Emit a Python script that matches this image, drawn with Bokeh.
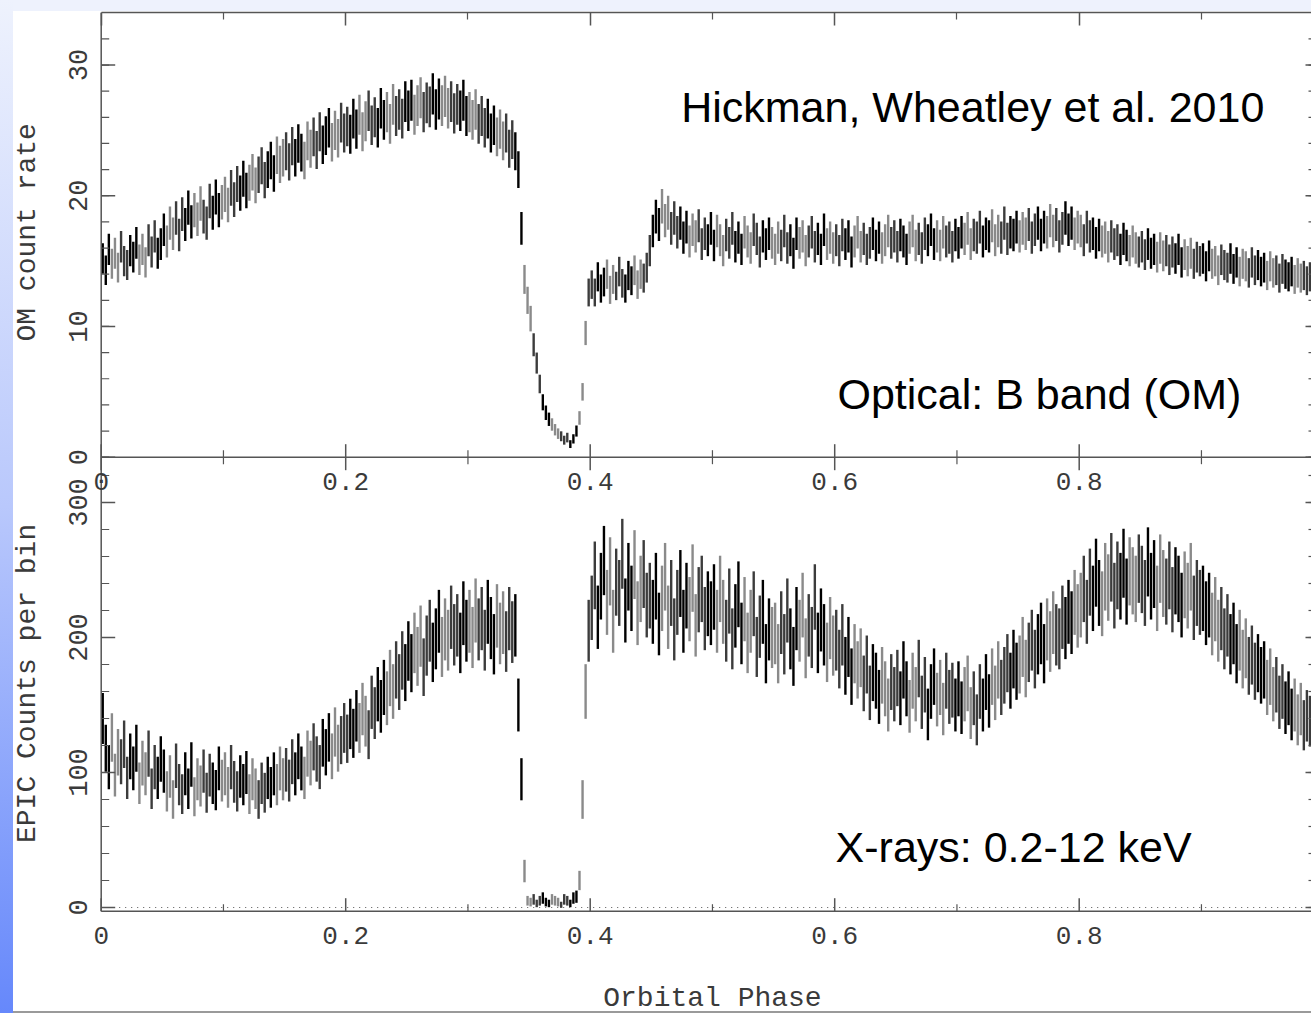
import numpy as np
from bokeh.plotting import figure
from bokeh.models import Range1d, LinearAxis, FixedTicker, CustomJSTickFormatter, Label, ColumnDataSource
from bokeh.embed import file_html
from bokeh.resources import INLINE

# ---------------- data ----------------
PHASE_STEP = 0.0025   # width of one phase bin

OM_RATE = [
    15.2, 14.3, 15.9, 14.8, 15.6, 14.5, 16.1, 15.0, 14.7, 15.8, 15.3, 16.4, 15.1, 15.9, 14.9, 16.6, 15.7, 16.9, 15.6, 16.3,
    17.4, 16.5, 17.9, 17.1, 18.3, 17.0, 18.6, 17.8, 19.1, 18.0, 18.9, 18.2, 19.4, 18.4, 17.9, 19.6, 18.7, 19.9, 18.9, 19.5,
    20.1, 19.3, 20.6, 19.7, 20.9, 20.2, 21.3, 20.4, 21.0, 21.8, 20.8, 21.6, 22.3, 21.2, 22.0, 22.7, 21.7, 23.1, 22.4, 22.9,
    23.4, 22.6, 23.8, 22.9, 24.0, 23.3, 22.7, 24.2, 23.6, 24.5, 23.5, 24.9, 23.9, 24.6, 25.2, 24.1, 25.0, 24.4, 25.6, 24.8,
    25.3, 24.7, 25.9, 25.1, 26.2, 24.9, 25.7, 26.5, 25.4, 26.0, 25.2, 26.7, 25.8, 26.4, 25.5, 27.0, 26.1, 26.6, 25.9, 27.2,
    26.5, 27.3, 26.2, 26.9, 27.5, 26.4, 27.1, 26.8, 27.8, 26.6, 27.4, 26.9, 27.6, 26.7, 27.2, 26.3, 27.0, 26.5, 27.3, 26.1,
    26.4, 25.8, 26.6, 25.5, 26.1, 25.2, 25.9, 24.8, 25.4, 24.5, 25.1, 24.2, 24.8, 23.6, 24.3, 23.4, 22.0, 17.5, 13.6, 12.0,
    10.6, 8.6, 7.2, 5.6, 4.2, 3.4, 2.9, 2.5, 2.1, 1.8, 1.6, 1.3, 1.5, 1.0, 1.4, 2.0, 3.0, 5.0, 9.5, 12.6,
    13.2, 12.6, 13.8, 12.9, 13.4, 14.0, 12.8, 13.6, 13.1, 14.2, 13.3, 12.9, 13.9, 13.5, 14.3, 13.2, 14.0, 13.7, 14.5, 15.8,
    17.3, 18.4, 17.8, 19.2, 18.1, 18.7, 17.5, 18.3, 17.2, 17.9, 16.8, 17.6, 16.5, 17.4, 16.9, 17.7, 16.3, 17.1, 16.6, 17.5,
    16.2, 17.3, 16.6, 15.8, 17.0, 16.4, 17.5, 16.1, 16.8, 15.9, 17.2, 16.5, 16.0, 17.4, 16.7, 15.7, 16.9, 16.3, 17.1, 16.4,
    15.9, 16.8, 16.2, 17.3, 16.0, 16.6, 15.6, 17.1, 16.4, 16.9, 15.8, 16.5, 17.2, 16.1, 16.7, 15.9, 17.4, 16.3, 16.8, 16.0,
    16.6, 15.8, 17.0, 16.3, 16.9, 15.7, 16.5, 17.2, 16.1, 16.7, 15.9, 16.4, 17.1, 16.2, 16.8, 16.0, 16.6, 17.3, 16.4, 16.9,
    16.1, 17.0, 16.5, 15.9, 16.8, 17.3, 16.2, 16.7, 16.0, 17.1, 16.6, 17.4, 16.3, 16.9, 16.2, 17.2, 16.5, 16.8, 16.1, 17.0,
    16.4, 17.2, 16.7, 17.5, 16.3, 17.0, 16.8, 17.6, 16.5, 17.1, 16.9, 17.7, 16.6, 17.3, 16.8, 17.9, 16.7, 17.2, 17.0, 17.6,
    16.9, 17.5, 17.1, 17.8, 16.8, 17.4, 17.9, 17.0, 17.6, 17.2, 18.1, 17.3, 17.8, 16.9, 17.5, 18.3, 17.4, 17.9, 17.1, 17.6,
    17.3, 16.6, 17.6, 16.9, 17.1, 16.4, 17.0, 16.5, 16.8, 16.1, 16.9, 16.3, 16.6, 15.9, 16.7, 16.2, 15.8, 16.5, 16.0, 15.7,
    16.1, 15.5, 16.3, 15.6, 15.9, 15.3, 16.0, 15.4, 15.8, 15.1, 15.7, 15.2, 15.9, 14.9, 15.5, 15.0, 15.6, 14.8, 15.3, 15.0,
    15.2, 14.6, 15.4, 14.8, 15.0, 14.3, 15.1, 14.7, 14.5, 15.2, 14.4, 14.9, 14.2, 14.8, 14.6, 14.1, 14.9, 14.3, 14.7, 14.2,
    14.5, 13.9, 14.6, 14.1, 14.3, 13.7, 14.4, 14.0, 13.8, 14.2, 13.6, 14.1, 13.7, 13.9, 13.5, 13.8,
]

EPIC_COUNTS = [
    140, 118, 104, 126, 98, 115, 108, 121, 96, 112, 103, 118, 92, 107, 99, 114, 88, 104, 96, 110,
    101, 86, 97, 80, 105, 91, 84, 99, 88, 106, 82, 95, 90, 101, 85, 98, 92, 87, 103, 94,
    99, 89, 104, 93, 86, 97, 91, 100, 84, 95, 88, 80, 92, 85, 96, 89, 99, 91, 103, 95,
    102, 94, 108, 99, 112, 103, 96, 114, 107, 119, 110, 104, 122, 115, 126, 112, 130, 118, 124, 133,
    125, 136, 129, 142, 133, 147, 138, 128, 152, 144, 158, 149, 163, 155, 170, 160, 176, 167, 183, 174,
    190, 181, 196, 186, 201, 178, 194, 205, 189, 199, 212, 193, 206, 198, 215, 202, 209, 196, 218, 205,
    212, 200, 220, 206, 214, 198, 219, 207, 195, 216, 203, 211, 197, 214, 204, 209, 150, 95, 27, 5,
    4, 6, 3, 5, 7, 4, 3, 6, 5, 4, 2, 6, 5, 3, 7, 8, 20, 80, 160, 205,
    222, 246, 215, 238, 257, 226, 249, 212, 241, 233, 262, 220, 245, 229, 254, 218, 236, 247, 224, 231,
    219, 238, 210, 229, 245, 215, 233, 206, 226, 240, 212, 231, 221, 244, 209, 228, 236, 214, 225, 218,
    230, 212, 236, 219, 205, 227, 199, 216, 232, 203, 221, 196, 212, 225, 193, 208, 219, 188, 206, 200,
    203, 188, 211, 195, 220, 199, 186, 214, 205, 224, 192, 209, 200, 230, 196, 213, 202, 189, 207, 194,
    198, 184, 202, 179, 193, 171, 188, 176, 185, 166, 180, 159, 174, 168, 156, 172, 162, 150, 167, 158,
    170, 155, 176, 162, 149, 168, 158, 177, 152, 165, 143, 160, 171, 154, 163, 147, 168, 156, 161, 150,
    162, 148, 158, 166, 144, 155, 139, 160, 150, 167, 153, 171, 159, 176, 163, 172, 181, 168, 184, 175,
    180, 193, 177, 189, 198, 184, 195, 203, 188, 206, 197, 211, 202, 199, 215, 207, 219, 211, 226, 216,
    224, 236, 219, 241, 229, 248, 233, 225, 245, 237, 252, 231, 246, 238, 255, 234, 249, 242, 236, 251,
    243, 233, 256, 238, 247, 229, 251, 240, 234, 246, 228, 242, 236, 224, 239, 231, 245, 222, 233, 226,
    229, 218, 224, 210, 221, 205, 214, 199, 209, 195, 203, 188, 198, 184, 192, 179, 187, 175, 181, 172,
    176, 163, 171, 158, 165, 152, 160, 148, 155, 143, 150, 139, 147, 135, 142, 138,
]

X_TICKS = [0.0, 0.2, 0.4, 0.6, 0.8, 1.0]
X_MINOR = [0.1, 0.3, 0.5, 0.7, 0.9]
X_LABELS = ["0", "0.2", "0.4", "0.6", "0.8", "1"]
OM_TICKS = [0, 10, 20, 30]
OM_MINOR = list(range(0, 34, 2))
EPIC_TICKS = [0, 100, 200, 300]
EPIC_MINOR = list(range(0, 340, 20))

OM_ERR_SCALE = 0.3      # error bar ~ sqrt(rate)
EPIC_ERR_SCALE = 1.6    # error bar ~ sqrt(counts)

assert len(OM_RATE) == len(EPIC_COUNTS)

# ---------------- geometry ----------------
W, H = 1311, 1013
PX_PER_PHASE = 1222.5
X0_PX = 100.7                               # where phase 0 sits on the page
X_START = -X0_PX / PX_PER_PHASE
X_END = (W - X0_PX) / PX_PER_PHASE
T0, T1 = -42.56, 34.02      # OM (top panel) scale over the whole frame height
B0, B1 = -78.52, 662.96     # EPIC (bottom panel) scale over the whole frame height
EPIC_LOW = -2.74            # lower limit of the x-ray panel (bottom axis)

TXT = "#3a3a3a"
AX = "#555555"
MONO = "Liberation Mono"
SANS = "Liberation Sans"

p = figure(width=W, height=H, x_range=Range1d(X_START, X_END), y_range=Range1d(B0, B1),
           output_backend="svg", toolbar_location=None,
           x_axis_location=None, y_axis_location=None,
           min_border_left=0, min_border_right=0, min_border_top=12, min_border_bottom=0,
           outline_line_color=None, background_fill_alpha=0, border_fill_alpha=0)
p.extra_y_ranges = {"top": Range1d(T0, T1)}
p.grid.visible = False
p.styles = {
    "background": ("linear-gradient(to bottom, #eef2fd 0%, #b9c8fc 50%, #6688fb 100%) 0 0 / 13px 100% no-repeat, "
                   "linear-gradient(#eef2fd, #eef2fd) 0 0 / 100% 11px no-repeat, "
                   "linear-gradient(#9a9a9a, #9a9a9a) 0 100% / 100% 2px no-repeat, #ffffff")
}

# ---------------- data marks (error bars) ----------------
phase = (np.arange(len(OM_RATE)) + 0.5) * PHASE_STEP
PALETTE = ["#000000", "#8a8a8a", "#3c3c3c"]
colors = [PALETTE[(i // 3) % 3] for i in range(len(phase))]

om = np.array(OM_RATE)
om_err = OM_ERR_SCALE * np.sqrt(om)
src_om = ColumnDataSource(dict(x=phase, lo=om - om_err, hi=om + om_err, c=colors))
p.segment(x0="x", y0="lo", x1="x", y1="hi", source=src_om, line_color="c",
          line_width=2.4, y_range_name="top")

ep = np.array(EPIC_COUNTS, dtype=float)
ep_err = EPIC_ERR_SCALE * np.sqrt(ep)
src_ep = ColumnDataSource(dict(x=phase, lo=ep - ep_err, hi=ep + ep_err, c=colors))
p.segment(x0="x", y0="lo", x1="x", y1="hi", source=src_ep, line_color="c", line_width=2.4)

# dotted zero level of the x-ray panel
p.segment(x0=[0], y0=[0], x1=[X_END], y1=[0], line_color=AX, line_width=1.2, line_dash="1 5")

# ---------------- top frame edge: a real axis ----------------
above = LinearAxis(ticker=FixedTicker(ticks=X_TICKS, minor_ticks=X_MINOR),
                   formatter=CustomJSTickFormatter(code="return '';"),
                   axis_line_color=AX, axis_line_width=1.5, major_tick_line_color=AX,
                   minor_tick_line_color=AX, major_tick_line_width=1.5, minor_tick_line_width=1.2,
                   major_tick_out=0, minor_tick_out=0, major_tick_in=13, minor_tick_in=7,
                   bounds=(0, 1.0), major_label_standoff=0, major_label_text_font_size="0px")
p.add_layout(above, "above")


def x_axis_at(y, rng, ticks_both):
    """x axis line with ticks and labels at level y of range rng"""
    p.segment(x0=[0], y0=[y], x1=[X_END], y1=[y], line_color=AX, line_width=1.5, y_range_name=rng)
    if ticks_both:
        p.scatter(x=X_TICKS, y=[y] * len(X_TICKS), marker="dash", angle=np.pi / 2, size=26,
                  line_color=AX, line_width=1.5, y_range_name=rng)
        p.scatter(x=X_MINOR, y=[y] * len(X_MINOR), marker="dash", angle=np.pi / 2, size=14,
                  line_color=AX, line_width=1.2, y_range_name=rng)
    else:
        p.ray(x=X_TICKS, y=[y] * len(X_TICKS), length=13, length_units="screen", angle=np.pi / 2,
              line_color=AX, line_width=1.5, y_range_name=rng)
        p.ray(x=X_MINOR, y=[y] * len(X_MINOR), length=7, length_units="screen", angle=np.pi / 2,
              line_color=AX, line_width=1.2, y_range_name=rng)
    for tx, tl in zip(X_TICKS, X_LABELS):
        if tx <= X_END:
            p.add_layout(Label(x=tx, y=y, y_range_name=rng, text=tl, text_align="center",
                               text_baseline="top", y_offset=-16, text_font=MONO,
                               text_font_size="26px", text_color=TXT))


# boundary between the panels (x axis of the optical panel) and bottom axis
x_axis_at(0, "top", True)
x_axis_at(EPIC_LOW, "default", False)
p.add_layout(Label(x=0.5, y=EPIC_LOW, text="Orbital Phase", text_align="center",
                   text_baseline="middle", y_offset=-87, text_font=MONO,
                   text_font_size="28px", text_color=TXT))

# ---------------- y axes (left frame edge at phase 0, right edge ticks) ----------------
p.segment(x0=[0], y0=[EPIC_LOW], x1=[0], y1=[B1], line_color=AX, line_width=1.5)
for rng, major, minor in (("top", OM_TICKS, OM_MINOR), ("default", EPIC_TICKS, EPIC_MINOR)):
    p.ray(x=[0] * len(major), y=major, length=14, length_units="screen", angle=0,
          line_color=AX, line_width=1.5, y_range_name=rng)
    p.ray(x=[0] * len(minor), y=minor, length=8, length_units="screen", angle=0,
          line_color=AX, line_width=1.2, y_range_name=rng)
    p.ray(x=[X_END] * len(major), y=major, length=6, length_units="screen", angle=np.pi,
          line_color=AX, line_width=1.5, y_range_name=rng)
    p.ray(x=[X_END] * len(minor), y=minor, length=3, length_units="screen", angle=np.pi,
          line_color=AX, line_width=1.2, y_range_name=rng)
    for v in major:
        p.add_layout(Label(x=0, y=v, y_range_name=rng, text=str(v), angle=np.pi / 2,
                           text_align="center", text_baseline="bottom", x_offset=-14,
                           text_font=MONO, text_font_size="27px", text_color=TXT))

# panel y-axis titles
p.add_layout(Label(x=-0.0605, y=17.2, y_range_name="top", text="OM count rate", angle=np.pi / 2,
                   text_align="center", text_baseline="middle", text_font=MONO,
                   text_font_size="28px", text_color=TXT))
p.add_layout(Label(x=-0.0605, y=166, text="EPIC Counts per bin", angle=np.pi / 2,
                   text_align="center", text_baseline="middle", text_font=MONO,
                   text_font_size="28px", text_color=TXT))

# ---------------- annotations ----------------
p.add_layout(Label(x=0.4744, y=26.8, y_range_name="top", text="Hickman, Wheatley et al. 2010",
                   text_font=SANS, text_font_size="43px", text_color="black",
                   text_baseline="alphabetic"))
p.add_layout(Label(x=0.6023, y=4.85, y_range_name="top", text="Optical: B band (OM)",
                   text_font=SANS, text_font_size="43px", text_color="black",
                   text_baseline="alphabetic"))
p.add_layout(Label(x=0.6007, y=44.5, text="X-rays: 0.2-12 keV",
                   text_font=SANS, text_font_size="43px", text_color="black",
                   text_baseline="alphabetic"))

open("out.html", "w").write(file_html(p, INLINE))
